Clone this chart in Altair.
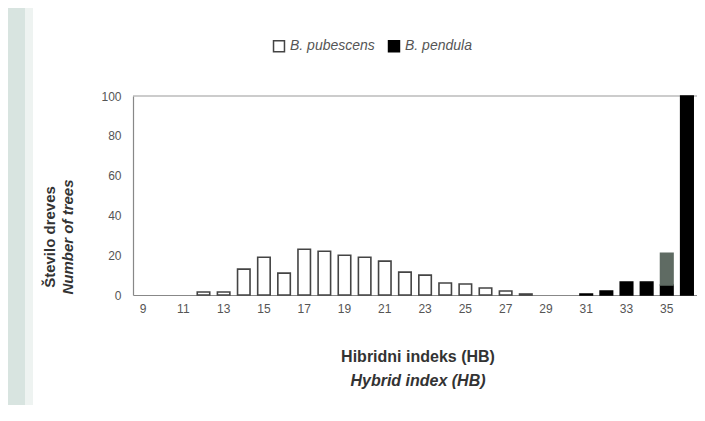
import altair as alt
import pandas as pd

# Hybrid index categories (x axis)
hb = list(range(9, 37))
tick_labels = list(range(9, 36, 2))
y_ticks = [0, 20, 40, 60, 80, 100]

# Number of trees per hybrid index
pub_hb = [12, 13, 14, 15, 16, 17, 18, 19, 20, 21, 22, 23, 24, 25, 26, 27, 28]
pub_val = [1.5, 1.5, 13, 19, 11, 23, 22, 20, 19, 17, 11.5, 10, 6, 5.5, 3.5, 2, 0.5]

pen_hb = [31, 32, 33, 34, 35, 36]
pen_val = [0.5, 2, 6.5, 6.5, 5, 100]

hyb_hb = [35]
hyb_val = [16]

series_names = ["B. pubescens", "B. pendula", "hybrid"]
fill_colors = ["white", "black", "#5f6b63"]
stroke_colors = ["#444444", "black", "#5f6b63"]

rows = []
for h, v in zip(pub_hb, pub_val):
    rows.append({"hb": h, "series": series_names[0], "value": v, "ord": 0})
for h, v in zip(pen_hb, pen_val):
    rows.append({"hb": h, "series": series_names[1], "value": v, "ord": 1})
for h, v in zip(hyb_hb, hyb_val):
    rows.append({"hb": h, "series": series_names[2], "value": v, "ord": 2})
df = pd.DataFrame(rows)

x_enc = alt.X(
    "hb:O",
    scale=alt.Scale(domain=hb, paddingInner=0.38, paddingOuter=0.19),
    axis=alt.Axis(
        values=tick_labels, labelAngle=0, ticks=False, title=None,
        domainColor="#888888", labelColor="#555555", labelFontSize=12,
        labelFont="Liberation Sans", labelPadding=8,
    ),
)

legend = alt.Legend(
    values=series_names[:2], orient="none", legendX=139, legendY=-57,
    direction="horizontal", title=None, symbolType="square",
    symbolSize=120, labelFontSize=14, labelFontStyle="italic",
    labelColor="#555555", labelFont="Liberation Sans",
    columnPadding=10, padding=0, symbolStrokeWidth=1.5,
)

bars = alt.Chart(df).mark_bar(strokeWidth=1.6).encode(
    x=x_enc,
    y=alt.Y(
        "value:Q", stack="zero",
        scale=alt.Scale(domain=[0, 100], nice=False),
        axis=alt.Axis(
            values=y_ticks, grid=False, ticks=False, title=None,
            domainColor="#888888", labelColor="#555555", labelFontSize=12,
            labelFont="Liberation Sans", labelPadding=12,
            labelOverlap=False, labelFlush=False,
        ),
    ),
    fill=alt.Fill(
        "series:N",
        scale=alt.Scale(domain=series_names, range=fill_colors),
        legend=legend,
    ),
    stroke=alt.Stroke(
        "series:N",
        scale=alt.Scale(domain=series_names, range=stroke_colors),
        legend=legend,
    ),
    order=alt.Order("ord:Q"),
)

# top frame line of the plot area
top_line = alt.Chart(pd.DataFrame({"a": [0]})).mark_rule(
    color="#9a9a9a", strokeWidth=1.2
).encode(y=alt.value(0), x=alt.value(0), x2=alt.value(564))

# scanned-page edge tint at the far left
scan_edge = alt.Chart(pd.DataFrame({"a": [0]})).mark_rect(
    color="#a9c4ba", opacity=0.45
).encode(
    x=alt.value(-125), x2=alt.value(-108),
    y=alt.value(-88), y2=alt.value(311),
)
scan_edge2 = alt.Chart(pd.DataFrame({"a": [0]})).mark_rect(
    color="#a9c4ba", opacity=0.2
).encode(
    x=alt.value(-108), x2=alt.value(-100),
    y=alt.value(-88), y2=alt.value(311),
)

def label(text, x, y, angle=0, style="normal", size=13):
    return alt.Chart(pd.DataFrame({"t": [text]})).mark_text(
        font="Liberation Sans", fontWeight="bold", fontStyle=style,
        fontSize=size, color="#333333", angle=angle, align="center",
        baseline="middle",
    ).encode(text="t:N", x=alt.value(x), y=alt.value(y))

titles = (
    label("Število dreves", -83, 141, angle=270, size=15)
    + label("Number of trees", -65, 141, angle=270, style="italic", size=15)
    + label("Hibridni indeks (HB)", 285, 261, size=16)
    + label("Hybrid index (HB)", 285, 285, style="italic", size=16)
)

chart = alt.layer(scan_edge, scan_edge2, top_line, bars, titles).properties(
    width=564, height=199,
    autosize=alt.AutoSizeParams(type="none"),
    padding={"left": 125, "top": 88, "right": 0, "bottom": 110},
).configure_view(stroke=None).configure_axis(domainWidth=1.2)

chart.save("out.html", embed_options={"renderer": "svg", "actions": False})
